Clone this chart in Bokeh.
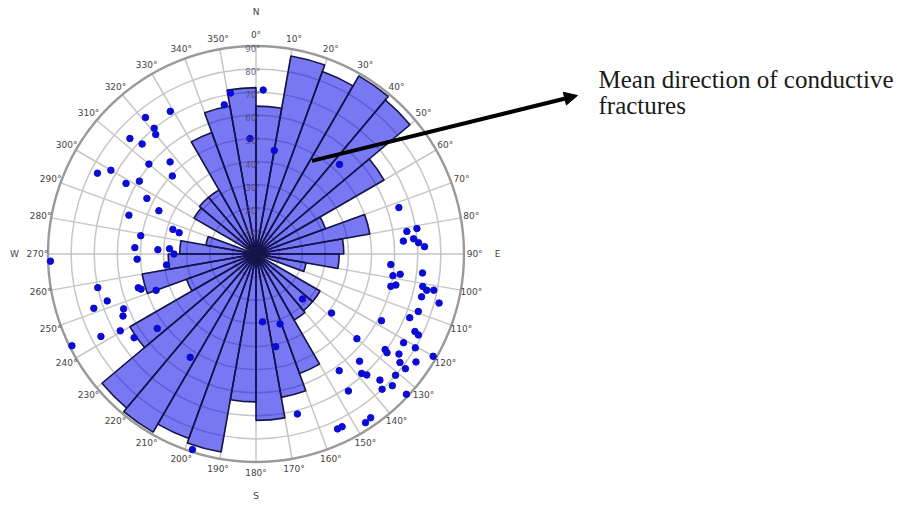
import numpy as np
from bokeh.plotting import figure
from bokeh.models import ColumnDataSource, Arrow, NormalHead
from bokeh.core.properties import value
from bokeh.embed import file_html
from bokeh.resources import INLINE

# Rose histogram: 10-degree azimuth bins (start of bin, clockwise from north)
bin_start = list(range(0, 360, 10))
bin_length = [64, 87, 84, 89, 87, 64, 32, 50, 38, 36, 22, 0,
              32, 32, 33, 55, 63, 72, 64, 87, 85, 89, 87, 63,
              32, 50, 38, 33, 22, 0, 31, 32, 32, 56, 65, 72]

# Individual fracture poles: azimuth (deg) and dip (deg, radial axis)
pole_azimuth = [351, 2.5, 348, 329, 321, 321, 320, 312.5, 314, 357, 10, 310, 317,
                297, 300, 298.5, 302, 313, 297, 294, 287, 286.5, 285.5, 279, 273,
                272.5, 273.5, 270, 268, 267.5, 263, 258, 252.5, 251.5, 247.5, 245,
                254, 253, 250, 240.5, 242, 235.5, 233, 243.5, 212.5, 198, 174.5,
                161, 168, 165.5, 134, 128, 43, 72, 81.5, 81, 85, 84.5, 86, 87.5,
                94.5, 99, 98, 96.5, 103.5, 102.5, 101, 102, 101.5, 104.5, 105,
                109.5, 118, 112.5, 116, 116.5, 130, 126.5, 121, 120.5, 120, 136,
                125, 127, 124, 127.5, 144.5, 137.5, 131, 135.5, 137, 134, 146,
                133, 147, 155, 153.5, 145, 138.5, 127]
pole_dip = [70.5, 71, 66, 72, 76, 70, 67.5, 74, 68.5, 50, 45.5, 60.5, 54.5,
            77, 72.5, 64, 59.5, 49.5, 53, 46, 57.5, 37.5, 34.5, 50.5, 52.5,
            42.5, 37.5, 35.5, 89, 51.5, 39, 70, 67.5, 74, 62, 63.5,
            53, 52, 46, 67.5, 76, 64, 53.5, 89, 53, 89, 29.5,
            32, 41, 71.5, 28, 41.5, 53, 65, 66, 70.5, 64, 68.5, 70.5, 73,
            58.5, 60, 63, 72.5, 60, 62, 73.5, 75.5, 78.5, 74, 82,
            74.5, 61.5, 72, 76.5, 78.5, 57, 69.5, 74.5, 80, 88.5, 64.5,
            75.5, 78, 83.5, 81.5, 62, 71, 80, 76.5, 80, 82, 71.5,
            89, 87, 83.5, 83.5, 86.5, 69, 71]

ring_values = [10, 20, 30, 40, 50, 60, 70, 80, 90]
spoke_azimuths = list(range(0, 360, 10))
cardinals = ["N", "E", "S", "W"]
cardinal_azimuths = [0, 90, 180, 270]
mean_azimuth = 31

# page geometry
W, H = 918, 506
S = 208 / 90.0            # pixels per radial unit
CX, CY = 255.5, 253.5     # centre of the rose in pixels


def polar(az, r):
    a = np.radians(np.asarray(az, dtype=float))
    r = np.asarray(r, dtype=float)
    return r * np.sin(a), r * np.cos(a)


p = figure(width=W, height=H,
           x_range=(-CX / S, (W - CX) / S),
           y_range=(-(H - CY) / S, CY / S),
           output_backend="svg", toolbar_location=None,
           x_axis_location=None, y_axis_location=None,
           min_border=0, outline_line_color=None,
           background_fill_color="white", border_fill_color="white")
p.grid.visible = False

# polar grid
sx, sy = polar(spoke_azimuths, [90] * len(spoke_azimuths))
p.segment(x0=0, y0=0, x1=sx, y1=sy, line_color="#c6c6c6", line_width=1.5)
p.circle(x=0, y=0, radius=ring_values[:-1], fill_color=None,
         line_color="#c6c6c6", line_width=1.5)

# rose wedges
bs = np.array(bin_start, dtype=float)
bl = np.array(bin_length, dtype=float)
keep = bl > 0
wsrc = ColumnDataSource(dict(
    r=bl[keep],
    a0=np.radians(90 - (bs[keep] + 10)),
    a1=np.radians(90 - bs[keep]),
))
p.wedge(x=0, y=0, radius="r", start_angle="a0", end_angle="a1",
        direction="anticlock", source=wsrc,
        fill_color="#0000e6", fill_alpha=0.53,
        line_color="#15154a", line_width=1.6)

# outer circle
p.circle(x=0, y=0, radius=90, fill_color=None, line_color="#9a9a9a", line_width=2.4)

# fracture poles
px, py = polar(pole_azimuth, pole_dip)
p.scatter(x=px, y=py, size=6.5, fill_color="#0b0bd6", line_color="#0b0bd6")

# azimuth labels
lx, ly = polar(spoke_azimuths, [94.6] * len(spoke_azimuths))
p.text(x=lx, y=ly, text=[f"{a}°" for a in spoke_azimuths],
       text_align="center", text_baseline="middle",
       text_font=value("DejaVu Sans"), text_font_size=value("9px"),
       text_color="#444444")

# radial (dip) labels along the north spoke
p.text(x=[-1.4] * len(ring_values), y=[v - 1.3 for v in ring_values],
       text=[f"{v}°" for v in ring_values],
       text_align="center", text_baseline="middle",
       text_font=value("DejaVu Sans"), text_font_size=value("8.5px"),
       text_color="#4a4a66", text_alpha=0.85)

# compass letters
cx_, cy_ = polar(cardinal_azimuths, [104.5] * 4)
p.text(x=cx_, y=cy_, text=cardinals, text_align="center", text_baseline="middle",
       text_font=value("DejaVu Sans"), text_font_size=value("9px"),
       text_color="#444444")

# annotation arrow pointing at the mean direction
ax0, ay0 = polar([mean_azimuth], [47])
p.add_layout(Arrow(end=NormalHead(size=13, fill_color="black", line_color="black"),
                   x_start=float(ax0[0]), y_start=float(ay0[0]),
                   x_end=(577 - CX) / S, y_end=(CY - 95) / S,
                   line_color="black", line_width=4))

p.text(x=[(598 - CX) / S] * 2, y=[(CY - 79) / S, (CY - 105) / S],
       text=["Mean direction of conductive", "fractures"],
       text_align="left", text_baseline="alphabetic",
       text_font=value("Liberation Serif"), text_font_size=value("25px"),
       text_color="#1a1a1a")

open("out.html", "w").write(file_html(p, INLINE))
